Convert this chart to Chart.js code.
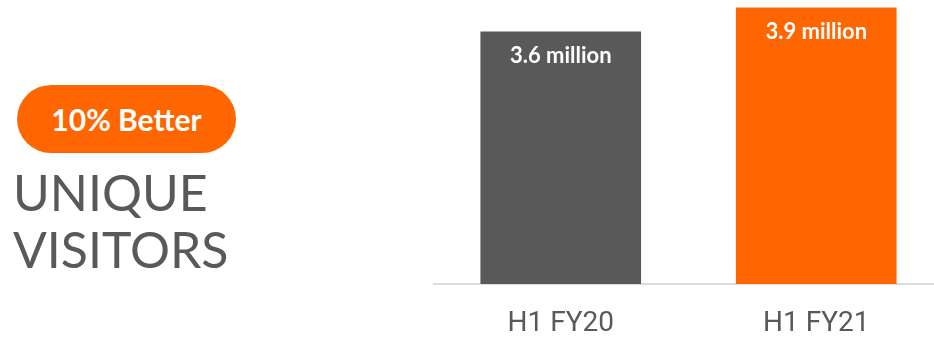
<!DOCTYPE html>
<html>
<head>
<meta charset="utf-8">
<script src="https://cdn.jsdelivr.net/npm/chart.js@4"></script>
<style>
  html, body { margin: 0; padding: 0; background: #fff; }
  body { width: 934px; height: 342px; overflow: hidden; position: relative; }
  .pill {
    position: absolute; left: 17px; top: 85px; width: 219px; height: 68px;
    border-radius: 34px; background: #ff6600; color: #fff;
    font: 700 30px Lato, sans-serif;
    display: flex; align-items: center; justify-content: center;
  }
  .title {
    position: absolute; left: 13px; top: 164px;
    font: 400 50px Lato, sans-serif; line-height: 57px; color: #595959;
  }
  #chartBox { position: absolute; left: 433px; top: 0; }
</style>
</head>
<body>
<div class="pill">10% Better</div>
<div class="title">UNIQUE<br>VISITORS</div>
<div id="chartBox"><canvas id="visitorsChart" width="511" height="342"></canvas></div>
<script>
// chart data
const periods = ['H1 FY20', 'H1 FY21'];
const visitors = [3.55, 3.89];           // millions
const valueLabels = ['3.6 million', '3.9 million'];
const barColors = ['#595959', '#ff6600'];

// draw the value text inside the top of each bar
const barTextPlugin = {
  id: 'barText',
  afterDatasetsDraw(chart) {
    const ctx = chart.ctx;
    const meta = chart.getDatasetMeta(0);
    ctx.save();
    ctx.fillStyle = '#ffffff';
    ctx.font = '700 22px Lato, sans-serif';
    ctx.textAlign = 'center';
    ctx.textBaseline = 'alphabetic';
    meta.data.forEach((bar, i) => {
      ctx.fillText(valueLabels[i], bar.x, bar.y + 31);
    });
    ctx.restore();
  }
};

const ctx = document.getElementById('visitorsChart').getContext('2d');
new Chart(ctx, {
  type: 'bar',
  data: {
    labels: periods,
    datasets: [{
      data: visitors,
      backgroundColor: barColors,
      borderWidth: 0,
      barThickness: 160
    }]
  },
  options: {
    responsive: false,
    animation: false,
    layout: { padding: 0 },
    plugins: { legend: { display: false }, tooltip: { enabled: false } },
    scales: {
      x: {
        grid: { display: false, drawTicks: false },
        border: { display: true, color: '#dcdcdc', width: 2 },
        ticks: {
          color: '#595959',
          padding: 23,
          font: { family: 'Roboto', size: 28, weight: '400' }
        },
        afterFit: (scale) => { scale.height = 58; }
      },
      y: { display: false, min: 0, max: 4 }
    }
  },
  plugins: [barTextPlugin]
});
</script>
</body>
</html>
